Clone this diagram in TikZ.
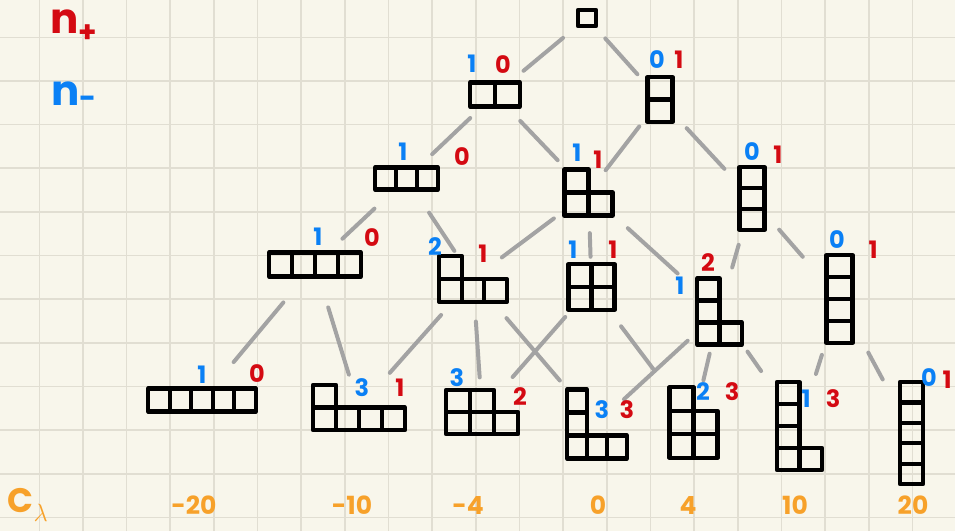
\documentclass[tikz,border=0pt]{standalone}
\usepackage{fontspec}
\setmainfont{Poppins}
\usepackage{tikz}
\usetikzlibrary{calc}
\definecolor{paper}{HTML}{F8F6EB}
\definecolor{gridgray}{HTML}{E1DED2}
\definecolor{linkgray}{HTML}{A3A3A3}
\definecolor{nplus}{HTML}{D40A12}
\definecolor{nminus}{HTML}{0A80F5}
\definecolor{content}{HTML}{F7A12A}
\tikzset{
    lattice/.style={x=1pt, y=-1pt},
    paper grid/.style={draw=gridgray, line width=1.6pt},
    young cell/.style={draw=black, line width=4.2pt, line join=round, line cap=round},
    link/.style={draw=linkgray, line width=4pt, line cap=round},
    minus label/.style={text=nminus, inner sep=0pt,
        font=\bfseries\fontsize{24}{24}\selectfont},
    plus label/.style={text=nplus, inner sep=0pt,
        font=\bfseries\fontsize{24}{24}\selectfont},
    content label/.style={text=content, inner sep=0pt,
        font=\bfseries\fontsize{25}{25}\selectfont},
    legend label/.style={inner sep=0pt, anchor=base west,
        font=\bfseries\fontsize{42}{42}\selectfont},
    pics/young/.style n args={5}{code={
        \begin{scope}[x=#1pt, y=#2pt, shift={(-#3/2,-#4/2)}]
            \foreach \i/\j in {#5}
                \draw[young cell] (\i,\j) rectangle ++(1,1);
        \end{scope}
    }},
}

\begin{document}
\begin{tikzpicture}[lattice]
    \useasboundingbox (0,0) rectangle (955,531);
    \fill[paper] (0,0) rectangle (955,531);
    \draw[paper grid, shift={(39.3,37.3)}, step=43.66pt] (-39.3,-37.3) grid (915.7,493.7);

    % legend
    \node[legend label, text=nplus] (nplus) at (50,33) {n\textsubscript{+}};
    \node[legend label, text=nminus] (nminus) at (51,105) {n\textsubscript{-}};

    % Young diagrams, French notation
    \coordinate (d1) at (587,18);
    \coordinate (d2) at (495,94.5);
    \coordinate (d11) at (660,99.5);
    \coordinate (d3) at (406.5,178.5);
    \coordinate (d21) at (588.5,192.5);
    \coordinate (d111) at (752,198.5);
    \coordinate (d4) at (315,264.5);
    \coordinate (d31) at (473,279);
    \coordinate (d22) at (591.5,287);
    \coordinate (d211) at (719.5,311.5);
    \coordinate (d1111) at (839.5,299);
    \coordinate (d5) at (202,400);
    \coordinate (d41) at (359,407.5);
    \coordinate (d32) at (482,412);
    \coordinate (d311) at (597,424);
    \coordinate (d221) at (693.5,422.5);
    \coordinate (d2111) at (799.5,426);
    \coordinate (d11111) at (911.5,433);

    \pic at (d1) {young={18}{16}{1}{1}{0/0}};
    \pic at (d2) {young={25}{24}{2}{1}{0/0,1/0}};
    \pic at (d11) {young={25}{22.5}{1}{2}{0/0,0/1}};
    \pic at (d3) {young={21}{22}{3}{1}{0/0,1/0,2/0}};
    \pic at (d21) {young={24}{23}{2}{2}{0/0,1/0,0/1}};
    \pic at (d111) {young={25}{21}{1}{3}{0/0,0/1,0/2}};
    \pic at (d4) {young={23}{24}{4}{1}{0/0,1/0,2/0,3/0}};
    \pic at (d31) {young={22.5}{23}{3}{2}{0/0,1/0,2/0,0/1}};
    \pic at (d22) {young={23}{23}{2}{2}{0/0,1/0,0/1,1/1}};
    \pic at (d211) {young={22.5}{22}{2}{3}{0/0,1/0,0/1,0/2}};
    \pic at (d1111) {young={26}{22}{1}{4}{0/0,0/1,0/2,0/3}};
    \pic at (d5) {young={21.5}{23}{5}{1}{0/0,1/0,2/0,3/0,4/0}};
    \pic at (d41) {young={23}{22.5}{4}{2}{0/0,1/0,2/0,3/0,0/1}};
    \pic at (d32) {young={24}{22}{3}{2}{0/0,1/0,2/0,0/1,1/1}};
    \pic at (d311) {young={20}{23}{3}{3}{0/0,1/0,2/0,0/1,0/2}};
    \pic at (d221) {young={24}{23.5}{2}{3}{0/0,1/0,0/1,1/1,0/2}};
    \pic at (d2111) {young={22.5}{22}{2}{4}{0/0,1/0,0/1,0/2,0/3}};
    \pic at (d11111) {young={23}{20.4}{1}{5}{0/0,0/1,0/2,0/3,0/4}};

    % links between diagrams
    \foreach \a/\b/\s/\t in {d1/d2/.26/.69, d1/d11/.25/.69,
        d2/d3/.28/.71, d2/d21/.27/.67, d11/d21/.29/.76, d11/d111/.29/.70,
        d3/d4/.35/.70, d3/d31/.34/.72, d21/d31/.30/.75, d21/d22/.43/.68,
        d21/d211/.30/.68, d111/d211/.41/.61, d111/d1111/.31/.58,
        d4/d5/.28/.72, d4/d41/.30/.77, d31/d41/.28/.73, d31/d32/.32/.74,
        d31/d311/.27/.70, d22/d32/.24/.72, d22/d221/.29/.61,
        d211/d311/.26/.78, d211/d221/.38/.62, d211/d2111/.35/.52,
        d1111/d2111/.44/.59, d1111/d11111/.40/.60}
        \draw[link] ($(\a)!\s!(\b)$) -- ($(\a)!\t!(\b)$);

    % n_- and n_+ of each diagram
    \node[minus label] (d2-m) at (472,64) {1};
    \node[plus label] (d2-p) at (503,65) {0};
    \node[minus label] (d11-m) at (657,60) {0};
    \node[plus label] (d11-p) at (679,60) {1};
    \node[minus label] (d3-m) at (403,152) {1};
    \node[plus label] (d3-p) at (462,157) {0};
    \node[minus label] (d21-m) at (577,153) {1};
    \node[plus label] (d21-p) at (598,160) {1};
    \node[minus label] (d111-m) at (752,152) {0};
    \node[plus label] (d111-p) at (778,155) {1};
    \node[minus label] (d4-m) at (318,237) {1};
    \node[plus label] (d4-p) at (372,238) {0};
    \node[minus label] (d31-m) at (435,247) {2};
    \node[plus label] (d31-p) at (483,254) {1};
    \node[minus label] (d22-m) at (573,250) {1};
    \node[plus label] (d22-p) at (613,250) {1};
    \node[minus label] (d211-m) at (680,286) {1};
    \node[plus label] (d211-p) at (708,263) {2};
    \node[minus label] (d1111-m) at (837,240) {0};
    \node[plus label] (d1111-p) at (873,250) {1};
    \node[minus label] (d5-m) at (202,375) {1};
    \node[plus label] (d5-p) at (257,374) {0};
    \node[minus label] (d41-m) at (362,388) {3};
    \node[plus label] (d41-p) at (400,388) {1};
    \node[minus label] (d32-m) at (457,378) {3};
    \node[plus label] (d32-p) at (520,397) {2};
    \node[minus label] (d311-m) at (602,410) {3};
    \node[plus label] (d311-p) at (627,410) {3};
    \node[minus label] (d221-m) at (703,392) {2};
    \node[plus label] (d221-p) at (732,392) {3};
    \node[minus label] (d2111-m) at (806,399) {1};
    \node[plus label] (d2111-p) at (833,399) {3};
    \node[minus label] (d11111-m) at (929,378) {0};
    \node[plus label] (d11111-p) at (947,380) {1};

    % contents
    \node[content label, font=\bfseries\fontsize{34}{34}\selectfont]
        (clambda) at (28,505) {C\textsubscript{$\lambda$}};
    \node[content label] (c5) at (194,505) {-20};
    \node[content label] (c41) at (352,505) {-10};
    \node[content label] (c32) at (468,505) {-4};
    \node[content label] (c311) at (598,505) {0};
    \node[content label] (c221) at (688,505) {4};
    \node[content label] (c2111) at (795,505) {10};
    \node[content label] (c11111) at (913,505) {20};
\end{tikzpicture}
\end{document}
